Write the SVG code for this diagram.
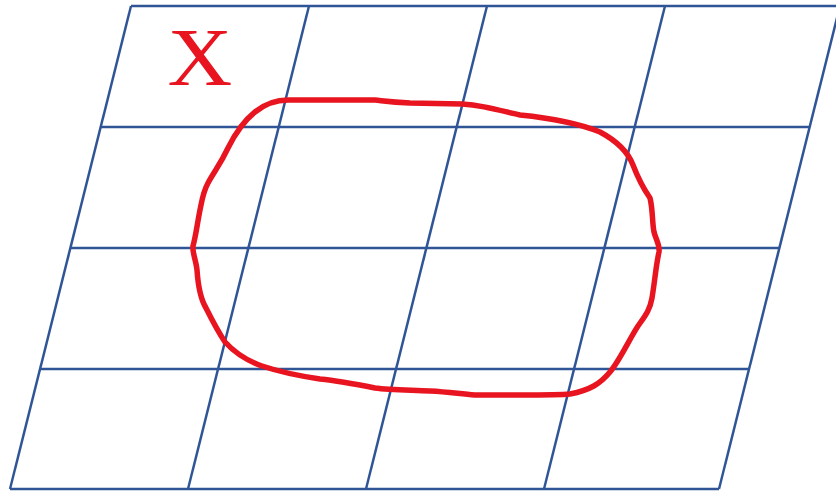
<svg xmlns="http://www.w3.org/2000/svg" width="836" height="491" viewBox="0 0 836 491">
<style>
.g{stroke:#2F5597;stroke-width:2.5;fill:none}
.r{stroke:#E8141F;stroke-width:5.5;fill:none;stroke-linecap:round;stroke-linejoin:round}
.lbl{font-family:"Liberation Serif",serif;font-size:78px;fill:#E8141F}
</style>
<rect width="836" height="491" fill="#fff"/>
<g id="grid" class="g">
<line x1="131" y1="6" x2="840" y2="6"/>
<line x1="100.7" y1="127" x2="810" y2="127"/>
<line x1="70.4" y1="248" x2="780" y2="248"/>
<line x1="40.1" y1="369" x2="750" y2="369"/>
<line x1="10" y1="489" x2="719" y2="489"/>
<line x1="131" y1="6" x2="10" y2="489"/>
<line x1="309" y1="6" x2="188" y2="489"/>
<line x1="487" y1="6" x2="366" y2="489"/>
<line x1="665" y1="6" x2="544" y2="489"/>
<line x1="840" y1="6" x2="719" y2="489"/>
</g>
<g id="region">
<path class="r" d="M288,100 L375,100 C385,101 392,102 410,103 L462,104 C478,105 490,108 520,115 C550,118 575,122 600,132 C615,140 628,152 633,165 C638,178 643,188 650,198 C653,210 652,222 654,232 C656,240 660,245 659,252 C656,265 655,280 652,298 C650,310 645,316 638,326 C630,338 620,360 610,372 C600,384 590,390 570,394 C560,395 540,395 520,395 L475,395 C460,394 450,392 430,391 C410,390 390,390 375,388 C360,385 340,381 320,379 C300,376 280,372 262,366 C245,360 235,353 225,342 C217,330 212,320 206,308 C200,298 198,285 197,270 C196,260 192,252 193,246 C196,235 197,225 200,210 C202,200 203,192 208,183 C215,170 220,165 228,148 C236,132 245,120 255,112 C265,104 275,100 288,100 Z"/>
</g>
<g id="label">
<text class="lbl" x="0" y="0" text-anchor="middle" transform="translate(200,85) scale(1.15,1.05)">X</text>
</g>
</svg>
